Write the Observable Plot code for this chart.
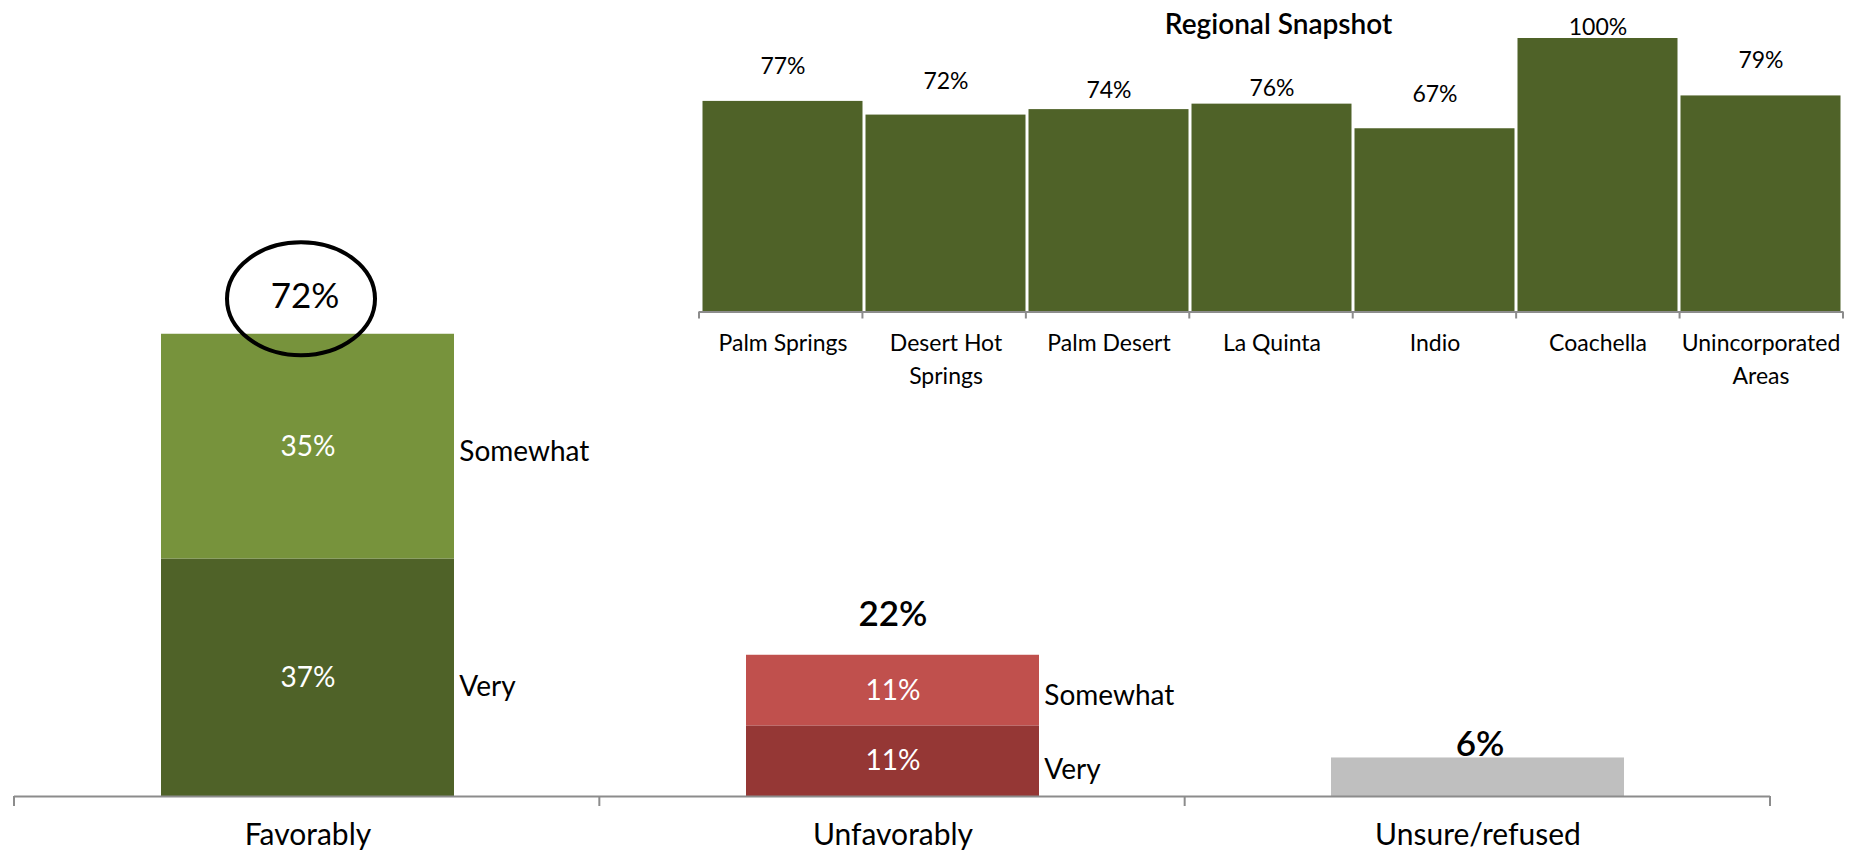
<!DOCTYPE html>
<html>
<head>
<meta charset="utf-8">
<script src="https://cdn.jsdelivr.net/npm/d3@7"></script>
<script src="https://cdn.jsdelivr.net/npm/@observablehq/plot@0.6"></script>
<style>
  html, body { margin: 0; padding: 0; background: #fff; }
  #chart { position: relative; width: 1862px; height: 853px; overflow: hidden; }
  #chart svg { position: absolute; max-width: none; }
</style>
</head>
<body>
<div id="chart"></div>
<script>
// Overall opinion, split into intensity levels
const categories = ["Favorably", "Unfavorably", "Unsure/refused"];
const veryShare = [37, 11, null];
const somewhatShare = [35, 11, null];
const unsureShare = [null, null, 6];

// Favorable share by community
const regions = ["Palm Springs", "Desert Hot Springs", "Palm Desert", "La Quinta", "Indio", "Coachella", "Unincorporated Areas"];
const regionTickLabels = ["Palm Springs", "Desert Hot\nSprings", "Palm Desert", "La Quinta", "Indio", "Coachella", "Unincorporated\nAreas"];
const regionFavorable = [77, 72, 74, 76, 67, 100, 79];

const palette = {
  Favorably: {Very: "#4F6228", Somewhat: "#77933C"},
  Unfavorably: {Very: "#953735", Somewhat: "#C0504D"},
  "Unsure/refused": {Unsure: "#BFBFBF"}
};

// Stack the levels of each category (Very at the bottom, Somewhat on top)
const segments = [];
categories.forEach((category, i) => {
  let base = 0;
  for (const [level, values] of [["Very", veryShare], ["Somewhat", somewhatShare], ["Unsure", unsureShare]]) {
    const value = values[i];
    if (value == null) continue;
    segments.push({category, level, value, y1: base, y2: base + value, color: palette[category][level]});
    base += value;
  }
});
const totals = categories.map((category, i) => ({
  category,
  total: d3.sum(segments.filter(s => s.category === category), s => s.value),
  stacked: veryShare[i] != null,
  highlight: i === 0
}));
const leveled = segments.filter(s => s.level !== "Unsure");
const mid = d => (d.y1 + d.y2) / 2;

const FONT = "Lato, 'Noto Sans', sans-serif";
const AXIS = "#8C8C8C";

// Small ticks at the band boundaries below the baseline
function bandTicks(n, length) {
  return (index, scales, values, dims) => {
    const g = d3.create("svg:g");
    const x0 = dims.marginLeft, x1 = dims.width - dims.marginRight;
    const y0 = dims.height - dims.marginBottom;
    for (let i = 0; i <= n; ++i) {
      const x = x0 + (x1 - x0) * i / n;
      g.append("line")
        .attr("x1", x).attr("x2", x)
        .attr("y1", y0).attr("y2", y0 + length)
        .attr("stroke", AXIS).attr("stroke-width", 2);
    }
    return g.node();
  };
}

// Ellipse outline used to circle the headline total
const ellipse = {
  draw(ctx) {
    const rx = 74, ry = 56.5, k = 0.5523;
    ctx.moveTo(rx, 0);
    ctx.bezierCurveTo(rx, ry * k, rx * k, ry, 0, ry);
    ctx.bezierCurveTo(-rx * k, ry, -rx, ry * k, -rx, 0);
    ctx.bezierCurveTo(-rx, -ry * k, -rx * k, -ry, 0, -ry);
    ctx.bezierCurveTo(rx * k, -ry, rx, -ry * k, rx, 0);
    ctx.closePath();
  }
};

const W = 1862, H = 853;
const mainLayout = {marginLeft: 14, marginRight: 92, marginTop: 154, marginBottom: 57};
const barWidth = (W - mainLayout.marginLeft - mainLayout.marginRight) / categories.length * 0.5;

const mainChart = Plot.plot({
  width: W,
  height: H,
  ...mainLayout,
  style: {fontFamily: FONT, fontSize: "28px", color: "#000", background: "transparent", overflow: "visible"},
  x: {domain: categories, paddingInner: 0.5, paddingOuter: 0.25, axis: null},
  y: {domain: [0, 100], axis: null},
  color: {type: "identity"},
  marks: [
    Plot.barY(segments, {x: "category", y1: "y1", y2: "y2", fill: "color"}),
    Plot.ruleY([0], {stroke: AXIS, strokeWidth: 2}),
    bandTicks(categories.length, 10),
    Plot.text(leveled, {x: "category", y: mid, text: d => `${d.value}%`, fill: "white", fontSize: 28}),
    Plot.text(leveled.filter(d => d.level === "Somewhat"), {x: "category", y: mid, text: "level", textAnchor: "start", dx: barWidth / 2 + 5, dy: 5, fontSize: 28}),
    Plot.text(leveled.filter(d => d.level === "Very"), {x: "category", y: mid, text: "level", textAnchor: "start", dx: barWidth / 2 + 5, dy: 9, fontSize: 28}),
    Plot.text(totals.filter(d => d.highlight), {x: "category", y: "total", text: d => `${d.total}%`, dx: -3, dy: -37, fontSize: 35, fontWeight: 400}),
    Plot.dot(totals.filter(d => d.highlight), {x: "category", y: "total", symbol: ellipse, fill: "none", stroke: "#000", strokeWidth: 4, dx: -7, dy: -35.5}),
    Plot.text(totals.filter(d => d.stacked && !d.highlight), {x: "category", y: "total", text: d => `${d.total}%`, dy: -40, fontSize: 35, fontWeight: 600}),
    Plot.text(totals.filter(d => !d.stacked), {x: "category", y: "total", text: d => `${d.total}%`, dx: 2, dy: -13, fontSize: 35, fontWeight: 600}),
    Plot.text(categories, {x: d => d, frameAnchor: "bottom", lineAnchor: "middle", dy: 39, fontSize: 30})
  ]
});
mainChart.style.left = "0px";
mainChart.style.top = "0px";
document.getElementById("chart").append(mainChart);

// Regional snapshot inset
const insetLayout = {width: 1182, height: 400, marginLeft: 19, marginRight: 19, marginTop: 38, marginBottom: 88.5};
const pxPerPoint = (insetLayout.height - insetLayout.marginTop - insetLayout.marginBottom) / 100;
const labelLift = [35, 33, 19, 16, 34.5, 11, 35]; // px between a bar top and its value label
const regionRows = regions.map((region, i) => ({
  region,
  tick: regionTickLabels[i],
  value: regionFavorable[i],
  labelY: regionFavorable[i] + labelLift[i] / pxPerPoint
}));

const inset = Plot.plot({
  ...insetLayout,
  style: {fontFamily: FONT, fontSize: "23px", color: "#000", background: "transparent", overflow: "visible"},
  x: {domain: regions, padding: 0, axis: null},
  y: {domain: [0, 100], axis: null},
  marks: [
    Plot.barY(regionRows, {x: "region", y: "value", fill: "#4F6228", insetLeft: 1.5, insetRight: 1.5}),
    Plot.ruleY([0], {stroke: AXIS, strokeWidth: 2}),
    bandTicks(regions.length, 7),
    Plot.text(regionRows, {x: "region", y: "labelY", text: d => `${d.value}%`, fontSize: 23}),
    Plot.text(regionRows, {x: "region", text: "tick", frameAnchor: "bottom", lineAnchor: "top", dy: 16, lineHeight: 1.43, fontSize: 23}),
    Plot.text(["Regional Snapshot"], {frameAnchor: "top", lineAnchor: "middle", dx: 7, dy: -13, fontSize: 28, fontWeight: 600})
  ]
});
inset.style.left = "680px";
inset.style.top = "0px";
document.getElementById("chart").append(inset);
</script>
</body>
</html>
